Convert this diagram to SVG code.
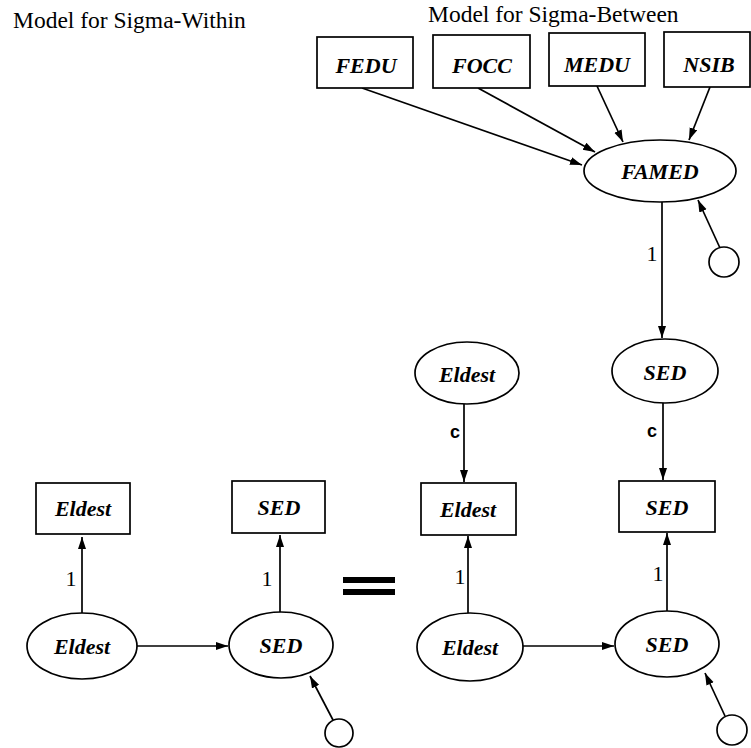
<svg xmlns="http://www.w3.org/2000/svg" width="751" height="748" viewBox="0 0 751 748">
<defs>
<marker id="ah" markerUnits="userSpaceOnUse" markerWidth="13" markerHeight="10" refX="12" refY="4" orient="auto">
<path d="M0,0 L12,4 L0,8 z" fill="#000"/>
</marker>
<style>
.title{font-family:"Liberation Serif",serif;font-size:23.5px;fill:#000}
.lbl{font-family:"Liberation Serif",serif;font-style:italic;font-weight:bold;font-size:22px;fill:#000;text-anchor:middle}
.one{font-family:"Liberation Serif",serif;font-size:22px;fill:#000;text-anchor:middle}
.c{font-family:"Liberation Sans",sans-serif;font-weight:bold;font-size:18px;fill:#000;text-anchor:middle}
.shape{fill:#fff;stroke:#000;stroke-width:1.7}
.edge{fill:none;stroke:#000;stroke-width:1.7;marker-end:url(#ah)}
</style>
</defs>
<rect width="751" height="748" fill="#fff"/>
<text class="title" x="13" y="28">Model for Sigma-Within</text>
<text class="title" x="428" y="22">Model for Sigma-Between</text>

<g id="connectors">
<line class="edge" x1="362" y1="88" x2="582" y2="165"/>
<line class="edge" x1="478" y1="88" x2="595" y2="152"/>
<line class="edge" x1="597" y1="86" x2="623" y2="142"/>
<line class="edge" x1="710" y1="87" x2="689" y2="140"/>
<line class="edge" x1="720" y1="248" x2="698" y2="200"/>
<line class="edge" x1="662" y1="202" x2="662" y2="338"/>
<line class="edge" x1="464" y1="404" x2="464" y2="482"/>
<line class="edge" x1="663" y1="403" x2="663" y2="480"/>
<line class="edge" x1="468" y1="613" x2="468" y2="536"/>
<line class="edge" x1="667" y1="611" x2="667" y2="533"/>
<line class="edge" x1="523" y1="646" x2="614" y2="646"/>
<line class="edge" x1="725" y1="716" x2="705" y2="673"/>
<line class="edge" x1="82" y1="613" x2="82" y2="537"/>
<line class="edge" x1="280" y1="612" x2="280" y2="535"/>
<line class="edge" x1="137" y1="646" x2="228" y2="646"/>
<line class="edge" x1="333" y1="720" x2="310" y2="676"/>
<text class="one" x="652" y="261">1</text>
<text class="c" x="455" y="438">c</text>
<text class="c" x="652" y="437">c</text>
<text class="one" x="460" y="584">1</text>
<text class="one" x="658" y="581">1</text>
<text class="one" x="71" y="586">1</text>
<text class="one" x="267" y="586">1</text>
</g>

<g id="FEDU"><rect class="shape" x="317" y="37" width="96" height="51"/><text class="lbl" x="366" y="73">FEDU</text></g>
<g id="FOCC"><rect class="shape" x="433" y="35" width="97" height="53"/><text class="lbl" x="482" y="73">FOCC</text></g>
<g id="MEDU"><rect class="shape" x="549" y="33" width="96" height="53"/><text class="lbl" x="597" y="72">MEDU</text></g>
<g id="NSIB"><rect class="shape" x="664" y="32" width="86" height="55"/><text class="lbl" x="709" y="72">NSIB</text></g>
<g id="FAMED"><ellipse class="shape" cx="660" cy="171" rx="76" ry="31"/><text class="lbl" x="660" y="179">FAMED</text></g>
<g id="err_famed"><circle class="shape" cx="724" cy="262" r="15"/></g>

<g id="SED_between"><ellipse class="shape" cx="665" cy="371" rx="53" ry="32"/><text class="lbl" x="665" y="380">SED</text></g>
<g id="Eldest_between"><ellipse class="shape" cx="467" cy="373" rx="52" ry="31"/><text class="lbl" x="467" y="382">Eldest</text></g>

<g id="Eldest_box_r"><rect class="shape" x="421" y="483" width="95" height="52"/><text class="lbl" x="468" y="517">Eldest</text></g>
<g id="SED_box_r"><rect class="shape" x="619" y="481" width="96" height="51"/><text class="lbl" x="667" y="515">SED</text></g>
<g id="Eldest_lat_r"><ellipse class="shape" cx="470" cy="647" rx="53" ry="34"/><text class="lbl" x="470" y="655">Eldest</text></g>
<g id="SED_lat_r"><ellipse class="shape" cx="667" cy="644" rx="52" ry="33"/><text class="lbl" x="667" y="652">SED</text></g>
<g id="err_r"><circle class="shape" cx="732" cy="730" r="15"/></g>

<g id="Eldest_box_l"><rect class="shape" x="36" y="483" width="94" height="51"/><text class="lbl" x="83" y="516">Eldest</text></g>
<g id="SED_box_l"><rect class="shape" x="232" y="481" width="93" height="52"/><text class="lbl" x="279" y="515">SED</text></g>
<g id="Eldest_lat_l"><ellipse class="shape" cx="82" cy="646" rx="55" ry="33"/><text class="lbl" x="82" y="654">Eldest</text></g>
<g id="SED_lat_l"><ellipse class="shape" cx="281" cy="645" rx="52" ry="33"/><text class="lbl" x="281" y="653">SED</text></g>
<g id="err_l"><circle class="shape" cx="339" cy="733" r="14"/></g>

<g id="equals"><rect x="343" y="577" width="52" height="6" fill="#000"/><rect x="343" y="589" width="52" height="6" fill="#000"/></g>
</svg>
